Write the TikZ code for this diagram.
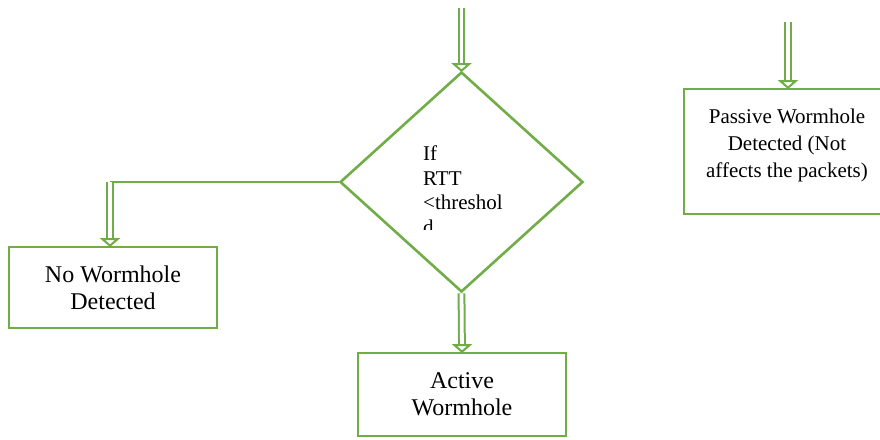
\documentclass[tikz,border=0pt]{standalone}
\usepackage{fontspec}
\setmainfont{Liberation Serif}
\usetikzlibrary{arrows.meta,shapes.geometric}
\definecolor{grn}{HTML}{70AD47}
\begin{document}
\begin{tikzpicture}[x=1pt,y=-1pt,
  boxst/.style={draw=grn,line width=2.6pt,rectangle,inner sep=0pt,align=center,
    font=\fontsize{24}{27}\selectfont},
  dbl/.style={draw=grn,line width=2pt,double=white,double distance=3.8pt,shorten >=6pt},
  tipst/.style={draw=grn,fill=white,line width=2pt,line join=miter},
  thinl/.style={draw=grn,line width=1.3pt}]
\useasboundingbox (0,0) rectangle (880,439);
\clip (0,0) rectangle (880,439);
\node[draw=grn,line width=2.6pt,diamond,minimum width=243pt,minimum height=220pt,inner sep=0pt] (dia) at (461.5,182) {};
\begin{scope}
\clip (400,140) rectangle (520,229.5);
\node[anchor=north west,align=left,inner sep=0pt,font=\fontsize{21}{24.5}\selectfont] (dtext) at (423,146) {If\\RTT\\<threshol\\d};
\end{scope}
\node[boxst,minimum width=208pt,minimum height=81pt] (nobox) at (113,287.5) {No Wormhole\\Detected};
\node[boxst,minimum width=208pt,minimum height=83pt] (active) at (462,394.5) {Active\\Wormhole};
\node[boxst,minimum width=211pt,minimum height=125pt] (passive) at (789.5,151.5) {};
\node[align=center,inner sep=0pt,font=\fontsize{21}{27}\selectfont] (ptext) at (787,145) {Passive Wormhole\\Detected (Not\\affects the packets)};
\coordinate (top) at (461.5,8);
\coordinate (ptop) at (788,22);
\coordinate (corner) at (110,182);
\coordinate (cend) at (corner |- nobox.north);
\coordinate (pend) at (ptop |- passive.north);
\draw[thinl] (dia.west) -- (corner);
\draw[dbl] (top) -- (dia.north);
\draw[tipst] ([shift={(-7.5,-6.5)}]dia.north) -- (dia.north) -- ([shift={(7.5,-6.5)}]dia.north) -- cycle;
\draw[dbl] (corner) -- (cend);
\draw[tipst] ([shift={(-7.5,-6.5)}]cend) -- (cend) -- ([shift={(7.5,-6.5)}]cend) -- cycle;
\draw[dbl] (dia.south) -- (active.north);
\draw[tipst] ([shift={(-7.5,-6.5)}]active.north) -- (active.north) -- ([shift={(7.5,-6.5)}]active.north) -- cycle;
\draw[dbl] (ptop) -- (pend);
\draw[tipst] ([shift={(-7.5,-6.5)}]pend) -- (pend) -- ([shift={(7.5,-6.5)}]pend) -- cycle;
\end{tikzpicture}
\end{document}
